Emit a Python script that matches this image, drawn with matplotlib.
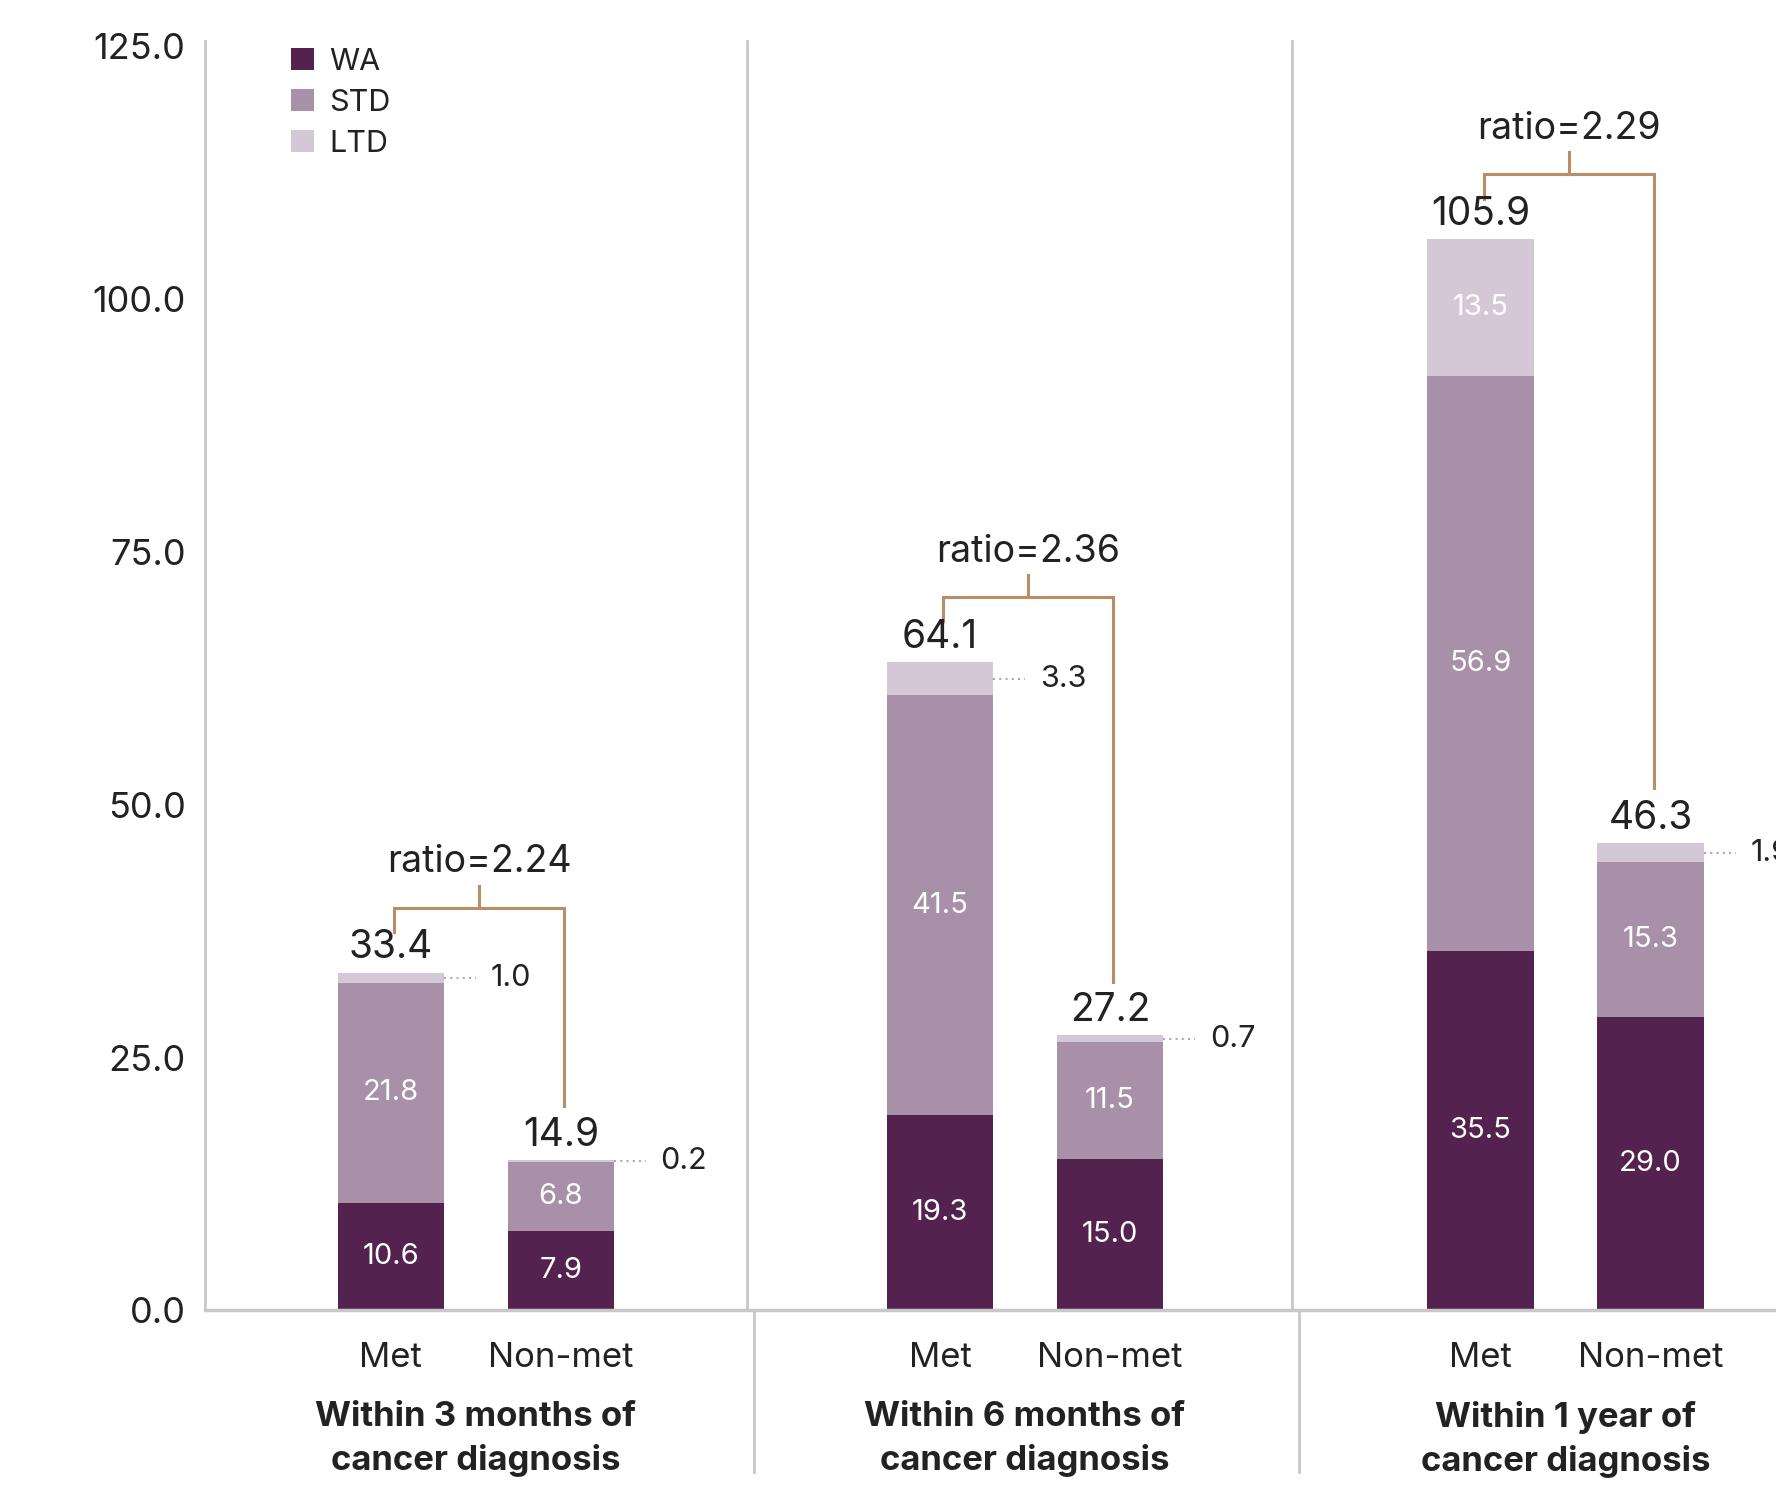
import matplotlib
matplotlib.use("Agg")
import matplotlib.pyplot as plt

plt.rcParams['font.family'] = ['Inter', 'DejaVu Sans']

groups = ["Within 3 months of\ncancer diagnosis", "Within 6 months of\ncancer diagnosis", "Within 1 year of\ncancer diagnosis"]
bar_names = ["Met", "Non-met"]
wa  = [10.6, 7.9, 19.3, 15.0, 35.5, 29.0]
std = [21.8, 6.8, 41.5, 11.5, 56.9, 15.3]
ltd = [1.0, 0.2, 3.3, 0.7, 13.5, 1.9]
totals = [33.4, 14.9, 64.1, 27.2, 105.9, 46.3]
ratios = ["ratio=2.24", "ratio=2.36", "ratio=2.29"]
yticks = [0, 25, 50, 75, 100, 125]

C_WA, C_STD, C_LTD = "#54224F", "#A890A8", "#D5C8D6"
C_BR = "#B98E66"
C_AX = "#C8C8C8"
C_TXT = "#222222"

group_starts = [0.0, 5.17, 10.26]
W = 1.0
xs = []
for g0 in group_starts:
    xs += [g0, g0 + 1.6]

YTOP = 125.5
fig = plt.figure(figsize=(17.76, 14.88), dpi=100)
ax = fig.add_axes([0.1154, 0.1193, 0.924, 0.8533])
ax.set_xlim(-1.75, 13.7)
ax.set_ylim(0, YTOP)

ax.bar(xs, wa, W, color=C_WA, label="WA")
ax.bar(xs, std, W, bottom=wa, color=C_STD, label="STD")
b2 = [a + b for a, b in zip(wa, std)]
ax.bar(xs, ltd, W, bottom=b2, color=C_LTD, label="LTD")

for i, x in enumerate(xs):
    ax.text(x, wa[i] / 2, f"{wa[i]:.1f}", color="white", ha="center", va="center", fontsize=21)
    ax.text(x, wa[i] + std[i] / 2, f"{std[i]:.1f}", color="white", ha="center", va="center", fontsize=21)
    top = wa[i] + std[i] + ltd[i]
    if ltd[i] >= 5:
        ax.text(x, b2[i] + ltd[i] / 2, f"{ltd[i]:.1f}", color="white", ha="center", va="center", fontsize=21)
    else:
        ym = b2[i] + ltd[i] / 2
        ax.plot([x + W / 2, x + W / 2 + 0.3], [ym, ym], ls=(0, (1, 2)), color="#B8A0B8", lw=1.5, clip_on=False)
        ax.text(x + W / 2 + 0.44, ym, f"{ltd[i]:.1f}", color=C_TXT, ha="left", va="center", fontsize=22)
    ax.text(x, top + 0.6, f"{totals[i]:.1f}", color=C_TXT, ha="center", va="bottom", fontsize=28)

# ratio brackets
for g in range(3):
    xm, xn = xs[2 * g], xs[2 * g + 1]
    tm, tn = totals[2 * g], totals[2 * g + 1]
    h = tm + 6.4
    ax.plot([xm + 0.03, xm + 0.03, xn + 0.03, xn + 0.03], [tm + 4.0, h, h, tn + 5.3],
            color=C_BR, lw=2.2, solid_joinstyle="miter")
    xc = (xm + xn) / 2 + 0.03
    ax.plot([xc, xc], [h, h + 2.2], color=C_BR, lw=2.2)
    ax.text(xc, h + 4.5, ratios[g], color=C_TXT, ha="center", va="center", fontsize=27)

# axes styling
for s in ["top", "right", "bottom", "left"]:
    ax.spines[s].set_visible(False)
ax.plot([-1.75, -1.75], [0, YTOP], color=C_AX, lw=2, clip_on=False)
ax.plot([-1.75, 13.7], [0, 0], color=C_AX, lw=2.5, clip_on=False)
for g in range(1, 3):
    sx = (xs[2 * g - 1] + xs[2 * g]) / 2 - 0.03
    ax.plot([sx, sx], [0, YTOP], color=C_AX, lw=2, clip_on=False)
    ax.plot([sx + 0.064, sx + 0.064], [0, -0.1276], color=C_AX, lw=2, clip_on=False,
            transform=ax.get_xaxis_transform())

ax.set_yticks(yticks)
ax.set_yticklabels([f"{v:.1f}" for v in yticks], fontsize=26, color=C_TXT)
ax.tick_params(axis="y", length=0, pad=14)
ax.set_xticks(xs)
ax.set_xticklabels(bar_names * 3, fontsize=25, color=C_TXT)
ax.tick_params(axis="x", length=0, pad=23)

for g in range(3):
    xc = (xs[2 * g] + xs[2 * g + 1]) / 2
    ax.text(xc, -0.071, groups[g], transform=ax.get_xaxis_transform(), ha="center", va="top",
            fontsize=25, fontweight="bold", color=C_TXT, linespacing=1.45)

leg = ax.legend(loc="upper left", bbox_to_anchor=(0.045, 1.004), frameon=False, fontsize=22,
                handlelength=0.75, handleheight=0.75, handletextpad=0.5, labelspacing=0.42, borderaxespad=0)
for t in leg.get_texts():
    t.set_color(C_TXT)

fig.savefig("out.png", dpi=100)
